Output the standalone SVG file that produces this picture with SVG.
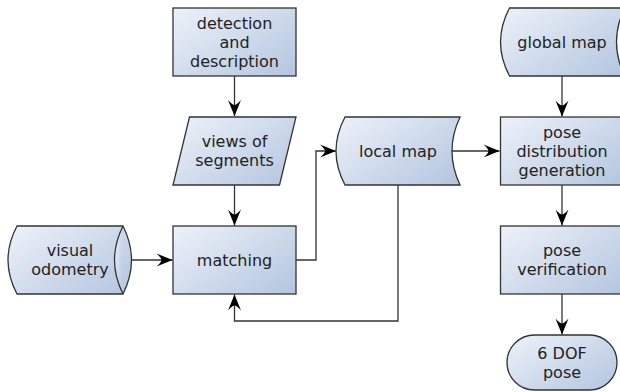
<svg xmlns="http://www.w3.org/2000/svg" width="620" height="392" viewBox="0 0 620 392">
<defs>
<linearGradient id="g" x1="0" y1="0.1" x2="1" y2="0.9">
<stop offset="0" stop-color="#ebf0f8"/>
<stop offset="1" stop-color="#b5c7e0"/>
</linearGradient>
<marker id="ah" markerUnits="userSpaceOnUse" markerWidth="20" markerHeight="20" viewBox="-18 -8 20 16" refX="0" refY="0" orient="auto">
<path d="M0,0 L-16,-6.5 Q-11,-2 -11,0 Q-11,2 -16,6.5 Z" fill="#000"/>
</marker>
</defs>
<style>
.n{fill:url(#g);stroke:#333;stroke-width:1.3}
.t{font-family:"DejaVu Sans",sans-serif;font-size:16px;fill:#222;text-anchor:middle}
.c{fill:none;stroke:#333;stroke-width:1.3;marker-end:url(#ah)}
</style>
<g id="connectors">
<path class="c" d="M234.5,76 V116"/>
<path class="c" d="M234.5,185 V225.5"/>
<path class="c" d="M131.5,260 H172.5"/>
<path class="c" d="M296,260 H316 V151 H336"/>
<path class="c" d="M398,185 V321 H234.5 V294.5"/>
<path class="c" d="M452,151 H499.5"/>
<path class="c" d="M562,76 V116.5"/>
<path class="c" d="M562,185 V225.5"/>
<path class="c" d="M562,294 V334.5"/>
</g>
<g id="detection">
<rect class="n" x="173" y="8" width="123" height="68"/>
<text class="t" x="234.5" y="28.5">detection</text>
<text class="t" x="234.5" y="47.7">and</text>
<text class="t" x="234.5" y="66.9">description</text>
</g>
<g id="views">
<path class="n" d="M189.5,117 H296 L279.5,185 H173 Z"/>
<text class="t" x="234.5" y="147.2">views of</text>
<text class="t" x="234.5" y="166.4">segments</text>
</g>
<g id="odometry">
<path class="n" d="M17,226 H123 Q140,260 123,294 H17 Q-1,260 17,226 Z"/>
<path class="n" d="M123,226 Q106,260 123,294"/>
<text class="t" x="70" y="256.1">visual</text>
<text class="t" x="70" y="275.3">odometry</text>
</g>
<g id="matching">
<rect class="n" x="173" y="226" width="123" height="68"/>
<text class="t" x="234.5" y="265.7">matching</text>
</g>
<g id="localmap">
<path class="n" d="M345,117 H460 Q444,151 460,185 H345 Q327,151 345,117 Z"/>
<text class="t" x="398" y="156.7">local map</text>
</g>
<g id="globalmap">
<path class="n" d="M509.5,8 H624.5 Q608.5,42 624.5,76 H509.5 Q491.5,42 509.5,8 Z"/>
<text class="t" x="562" y="47.7">global map</text>
</g>
<g id="posedist">
<rect class="n" x="500.5" y="117" width="123" height="68"/>
<text class="t" x="562" y="137.5">pose</text>
<text class="t" x="562" y="156.7">distribution</text>
<text class="t" x="562" y="175.9">generation</text>
</g>
<g id="poseverif">
<rect class="n" x="500.5" y="226" width="123" height="68"/>
<text class="t" x="562" y="256.1">pose</text>
<text class="t" x="562" y="275.3">verification</text>
</g>
<g id="dof">
<rect class="n" x="507" y="335" width="110" height="55" rx="27.5" ry="27.5"/>
<text class="t" x="562" y="358.6">6 DOF</text>
<text class="t" x="562" y="377.8">pose</text>
</g>
</svg>
